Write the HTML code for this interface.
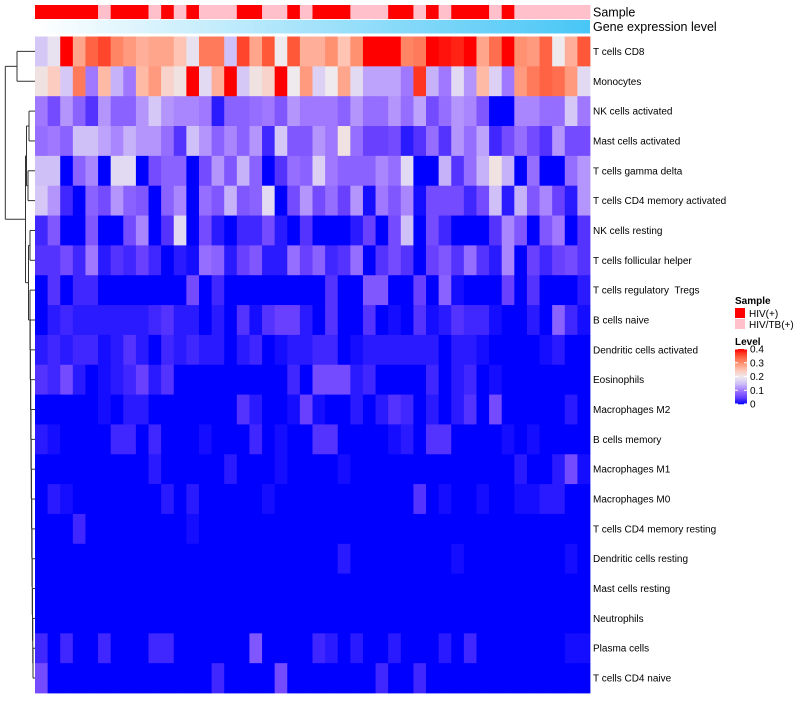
<!DOCTYPE html>
<html><head><meta charset="utf-8"><style>
body{margin:0;background:#fff;font-family:"Liberation Sans",sans-serif;}
svg text{font-family:"Liberation Sans",sans-serif;white-space:pre;}
</style></head><body>
<svg id="chart" width="800" height="700" xmlns="http://www.w3.org/2000/svg"></svg>
<script>
const cellTypes=["T cells CD8","Monocytes","NK cells activated","Mast cells activated","T cells gamma delta","T cells CD4 memory activated","NK cells resting","T cells follicular helper","T cells regulatory  Tregs","B cells naive","Dendritic cells activated","Eosinophils","Macrophages M2","B cells memory","Macrophages M1","Macrophages M0","T cells CD4 memory resting","Dendritic cells resting","Mast cells resting","Neutrophils","Plasma cells","T cells CD4 naive"];
// sample groups: 1 = HIV(+), 0 = HIV/TB(+)
const sampleGroup=[1,1,1,1,1,0,1,1,1,0,1,0,1,0,0,0,1,1,0,0,1,0,1,1,1,0,0,0,1,1,0,1,0,1,1,1,0,1,0,0,0,0,0,0];
// levels in hundredths (0.01)
const r1=[16,19,40,28,34,36,31,29,27,28,28,25,19,32,32,15,36,28,35,20,35,27,27,30,25,30,40,40,40,31,32,40,39,38,40,28,33,40,30,29,34,20,27,35];
const r2=[21,24,16,32,10,26,14,10,26,29,23,21,40,18,27,40,16,21,23,40,20,29,17,20,28,18,13,13,13,10,37,14,10,18,12,26,17,10,29,32,34,33,29,18];
const r3=[10,6,12,8,4,12,8,8,12,16,12,11,11,10,2,8,8,9,10,7,12,10,10,10,8,12,9,9,12,9,13,6,9,12,11,7,0,0,11,11,9,9,16,10];
const r4=[9,10,8,15,15,13,11,14,12,12,9,4,15,12,8,11,8,12,3,16,7,7,12,10,21,9,5,5,6,2,4,9,4,12,9,13,3,6,9,6,4,12,6,6];
const r5=[15,15,0,8,11,0,18,18,0,6,8,8,0,6,12,7,14,8,0,4,9,8,17,10,8,8,8,11,9,18,0,0,14,4,9,14,21,14,0,9,0,0,9,12];
const r6=[16,12,3,0,8,6,12,8,7,0,8,11,0,9,7,14,7,8,18,0,6,12,6,9,5,12,1,10,7,11,1,6,6,6,3,6,15,2,14,7,11,5,2,12];
const r7=[3,7,0,0,7,0,0,6,11,0,4,18,0,6,2,0,3,3,6,2,0,4,0,0,0,2,5,0,6,15,0,6,3,0,0,0,4,11,7,0,7,10,0,4];
const r8=[4,4,6,3,10,2,4,3,5,3,0,2,1,9,8,2,5,7,2,2,9,5,8,3,4,9,0,4,6,4,0,5,7,4,9,4,2,11,0,5,3,5,6,4];
const r9=[0,4,0,3,3,0,0,0,0,0,0,0,6,0,3,0,0,0,0,0,0,0,0,4,0,0,7,7,0,0,5,0,8,1,0,0,0,5,0,4,0,0,0,2];
const r10=[0,2,3,2,2,2,2,2,2,3,4,2,2,0,2,0,4,1,4,5,5,2,0,4,0,0,4,0,1,0,4,1,2,4,3,3,1,0,0,2,0,8,3,1];
const r11=[2,3,2,3,3,1,2,4,2,0,3,2,3,2,2,0,2,3,0,1,2,2,3,3,0,1,2,2,2,2,2,2,0,2,2,1,0,0,0,0,1,2,0,0];
const r12=[4,3,6,2,0,1,2,3,5,2,4,0,0,0,0,0,0,0,0,0,3,0,6,6,6,2,3,0,0,0,0,3,0,2,3,0,1,0,0,0,0,0,0,0];
const r13=[0,0,0,0,0,1,0,2,2,0,0,0,0,0,0,0,4,2,0,0,1,5,1,0,0,2,0,2,4,3,0,2,0,2,4,0,6,0,0,0,0,0,2,0];
const r14=[2,1,0,0,0,0,3,3,0,3,0,0,0,1,0,0,0,3,0,1,0,0,4,4,0,0,0,0,1,2,0,4,4,0,0,0,0,1,0,1,0,0,0,0];
const r15=[0,0,0,0,0,0,0,0,0,2,0,0,0,0,0,2,0,0,0,1,0,0,0,0,1,0,0,0,0,0,0,0,0,0,0,0,0,0,2,0,0,2,6,1];
const r16=[0,2,1,0,0,0,0,0,0,0,2,0,2,0,0,0,0,0,1,0,0,0,0,0,0,0,0,0,0,0,4,0,1,0,0,1,0,0,1,1,2,2,0,0];
const r17=[0,0,0,3,0,0,0,0,0,0,0,0,1,0,0,0,0,0,0,0,0,0,0,0,0,0,0,0,0,0,0,0,0,0,0,0,0,0,0,0,0,0,0,0];
const r18=[0,0,0,0,0,0,0,0,0,0,0,0,0,0,0,0,0,0,0,0,0,0,0,0,2,0,0,0,0,0,0,0,0,1,0,0,0,0,0,0,0,0,1,0];
const r19=[0,0,0,0,0,0,0,0,0,0,0,0,0,0,0,0,0,0,0,0,0,0,0,0,0,0,0,0,0,0,0,0,0,0,0,0,0,0,0,0,0,0,0,0];
const r20=[0,0,0,0,0,0,0,0,0,0,0,0,0,0,0,0,0,0,0,0,0,0,0,0,0,0,0,0,0,0,0,0,0,0,0,0,0,0,0,0,0,0,0,0];
const r21=[3,0,3,0,0,3,0,0,0,3,3,0,0,0,0,0,0,7,0,0,0,0,3,2,0,2,0,0,2,0,0,0,2,0,3,0,0,0,0,0,0,0,1,1];
const r22=[6,0,0,0,0,0,0,0,0,0,0,0,0,0,3,0,0,0,0,6,0,0,0,0,0,0,0,3,0,0,3,0,0,0,0,0,0,0,0,0,0,0,0,0];
const levelRows=[r1,r2,r3,r4,r5,r6,r7,r8,r9,r10,r11,r12,r13,r14,r15,r16,r17,r18,r19,r20,r21,r22];
const levelTicks=["0","0.1","0.2","0.3","0.4"];
const sampleLabels=["HIV(+)","HIV/TB(+)"];

const NS="http://www.w3.org/2000/svg";
const svg=document.getElementById('chart');
function mk(t,a,p){const e=document.createElementNS(NS,t);for(const k in a)e.setAttribute(k,a[k]);(p||svg).appendChild(e);return e;}
const X0=35,X1=590,Y0=36.5,Y1=693;
const nCol=sampleGroup.length,nRow=cellTypes.length;
const cw=(X1-X0)/nCol,rh=(Y1-Y0)/nRow;
const xOf=i=>X0+i*cw, yOf=j=>Y0+j*rh;
const stops=[[0,[0,0,255]],[5,[106,64,255]],[10,[160,120,255]],[15,[208,192,248]],[20,[238,234,238]],[25,[255,196,180]],[30,[255,144,112]],[35,[255,88,56]],[40,[255,0,0]]];
function col(v){v=Math.max(0,Math.min(40,v));for(let i=1;i<stops.length;i++){if(v<=stops[i][0]){const a=stops[i-1],b=stops[i],t=(v-a[0])/(b[0]-a[0]);return 'rgb('+a[1].map((c,k)=>Math.round(c+(b[1][k]-c)*t)).join(',')+')';}}return 'rgb(255,0,0)';}

sampleGroup.forEach((g,i)=>{const r=mk('rect',{x:xOf(i),y:5,width:cw+0.4,height:14,fill:g?'#ff0000':'#ffc0cb'});

});
const defs=mk('defs',{});const lg=mk('linearGradient',{id:'ge',x1:0,x2:1,y1:0,y2:0},defs);
mk('stop',{offset:0,'stop-color':'#ffffff'},lg);mk('stop',{offset:1,'stop-color':'#48c6f6'},lg);
const ge=mk('rect',{x:X0,y:20,width:X1-X0,height:13.5,fill:'url(#ge)'});


const t1=mk('text',{x:593,y:16.5,'font-size':12.5});t1.textContent='Sample';


const t2=mk('text',{x:593,y:31,'font-size':12.5});t2.textContent='Gene expression level';



levelRows.forEach((row,j)=>{row.slice(0,nCol).forEach((v,i)=>{
const c=mk('rect',{x:xOf(i),y:yOf(j),width:cw+0.4,height:rh+0.4,fill:col(v)});

});
const l=mk('text',{x:593,y:yOf(j)+rh/2+3.5,'font-size':10});l.textContent=cellTypes[j];

});

const dg=mk('g',{stroke:'#333','stroke-width':1,fill:'none'});


const rc=j=>yOf(j)+rh/2;
function seg(x1,y1,x2,y2){mk('line',{x1,y1,x2,y2},dg);}
function join(x,ya,xa,yb,xb){seg(x,ya,x,yb);seg(x,ya,xa,ya);seg(x,yb,xb,yb);}
join(17,rc(0),35,rc(1),35);
join(29,rc(2),35,rc(3),35);
join(28,rc(4),35,rc(5),35);
join(26.5,(rc(2)+rc(3))/2,29,(rc(4)+rc(5))/2,28);
join(30,rc(6),35,rc(7),35);
let prevY=rc(21),prevX=35;
for(let j=20;j>=8;j--){const x=33-(20-j)*0.25;const mid=(rc(j)+prevY)/2;join(x,rc(j),35,prevY,prevX);prevY=mid;prevX=x;}
join(28.5,(rc(6)+rc(7))/2,30,prevY,prevX);
const lowY=((rc(6)+rc(7))/2+prevY)/2;
const midTop=((rc(2)+rc(3))/2+(rc(4)+rc(5))/2)/2;
join(25.5,midTop,26.5,lowY,28.5);
join(5.3,(rc(0)+rc(1))/2,17,(midTop+lowY)/2,25.5);

const lgG=mk('g',{});


const st=mk('text',{x:735,y:304,'font-size':10,'font-weight':'bold'},lgG);st.textContent='Sample';
sampleLabels.forEach((s,k)=>{mk('rect',{x:735,y:308+k*11,width:10,height:10,fill:k?'#ffc0cb':'#ff0000'},lgG);
const tt=mk('text',{x:749,y:317+k*11,'font-size':10},lgG);tt.textContent=s;

});
const lv=mk('text',{x:735,y:345,'font-size':10,'font-weight':'bold'},lgG);lv.textContent='Level';
const cb0=349,cb1=404;
for(let k=0;k<40;k++){mk('rect',{x:735,y:cb1-(k+1)*(cb1-cb0)/40,width:12,height:(cb1-cb0)/40+0.3,fill:col(k+0.5)},lgG);}
levelTicks.forEach((t,k)=>{const y=cb1-k*(cb1-cb0)/4;mk('line',{x1:735,x2:738,y1:y,y2:y,stroke:'#fff'},lgG);mk('line',{x1:744,x2:747,y1:y,y2:y,stroke:'#fff'},lgG);
const tx=mk('text',{x:750,y:y+3.5,'font-size':10},lgG);tx.textContent=t;

});
</script>
</body></html>
